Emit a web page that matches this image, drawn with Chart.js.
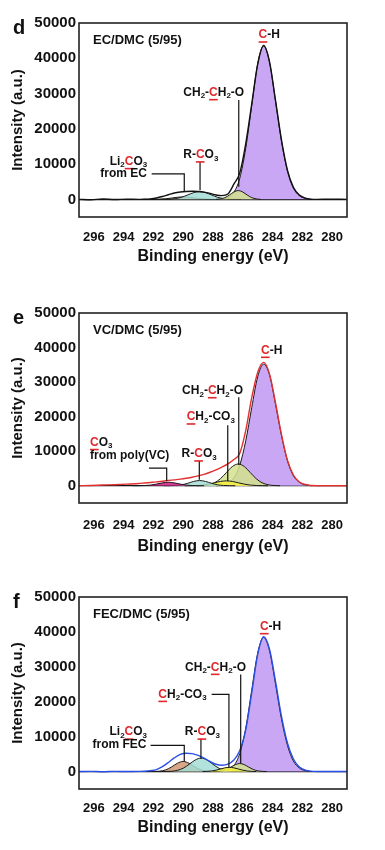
<!DOCTYPE html>
<html>
<head>
<meta charset="utf-8">
<script src="https://cdn.jsdelivr.net/npm/chart.js@4.4.1/dist/chart.umd.min.js"></script>
<style>
  body { margin: 0; background: #fff; }
  .panel { position: absolute; left: 0; width: 385px; }
</style>
</head>
<body>
<div class="panel" style="top:0;height:275px"><canvas id="chart_d"></canvas></div>
<div class="panel" style="top:290px;height:275px"><canvas id="chart_e"></canvas></div>
<div class="panel" style="top:570px;height:280px"><canvas id="chart_f"></canvas></div>
<script>
var xTicks = [296, 294, 292, 290, 288, 286, 284, 282, 280];
var yTicks = [0, 10000, 20000, 30000, 40000, 50000];

// energy grid of the measured spectra (eV)
var lineEnergy = [297, 296.2, 295.4, 294.6, 293.8, 293.0, 292.6, 292.2, 291.8, 291.4, 291.0,
  290.6, 290.2, 289.8, 289.4, 289.0, 288.6, 288.2, 287.8, 287.4, 287.0, 286.6, 286.2, 285.8,
  285.4, 285.0, 284.6, 284.2, 283.8, 283.4, 283.0, 282.6, 282.2, 281.8, 281.0, 280.2, 279.0];

// d : EC/DMC
var dRaw = [0, -100, 100, -50, 50, 0, 50, 150, 400, 800, 1300,
  1800, 2100, 2250, 2300, 2250, 2050, 1700, 1250, 1050, 1500, 4300, 7500, 15800,
  27000, 38300, 43600, 38900, 28000, 16800, 8300, 3400, 1200, 350, 0, 50, 0];
var dChE = [287.8, 287.4, 287.0, 286.6, 286.2, 285.8, 285.4, 285.0, 284.6, 284.2, 283.8, 283.4, 283.0, 282.6, 282.2, 281.8, 281.4];
var dCh = [0, 100, 500, 2000, 6000, 14500, 26500, 38400, 43500, 38800, 27800, 16500, 8000, 3200, 1100, 300, 0];
var dCh2E = [287.8, 287.5, 287.2, 286.9, 286.6, 286.3, 286.0, 285.7, 285.4, 285.1, 284.8];
var dCh2 = [0, 140, 495, 1220, 2090, 2500, 2090, 1220, 495, 140, 0];
var dRco3E = [291.7, 291.3, 290.9, 290.5, 290.1, 289.7, 289.3, 288.9, 288.5, 288.1, 287.7, 287.3, 286.9, 286.5, 286.1];
var dRco3 = [0, 13, 63, 227, 611, 1245, 1907, 2200, 1907, 1245, 611, 227, 63, 13, 0];
var dLiE = [292.8, 292.4, 292.0, 291.6, 291.2, 290.8, 290.4, 290.0, 289.6, 289.2, 288.8, 288.4, 288.0, 287.6, 287.2];
var dLi = [0, 2, 12, 51, 161, 364, 594, 700, 594, 364, 161, 51, 12, 2, 0];

// e : VC/DMC
var eRaw = [0, 80, 200, 300, 450, 650, 800, 950, 1100, 1300, 1500,
  1700, 1900, 2150, 2450, 2850, 3300, 3900, 4600, 5400, 6300, 7600, 9400, 16000,
  25500, 32800, 35700, 32300, 24000, 14800, 7400, 3100, 1100, 350, 0, 0, 0];
var eChE = [287.8, 287.4, 287.0, 286.6, 286.2, 285.8, 285.4, 285.0, 284.6, 284.2, 283.8, 283.4, 283.0, 282.6, 282.2, 281.8, 281.4];
var eCh = [0, 155, 655, 2210, 5980, 13000, 22600, 31500, 35200, 32000, 23500, 14500, 7200, 2900, 1000, 250, 0];
var eCh2E = [289.1, 288.7, 288.3, 287.9, 287.5, 287.1, 286.7, 286.3, 285.9, 285.5, 285.1, 284.7, 284.3, 283.9, 283.5];
var eCh2 = [0, 70, 277, 850, 2045, 3820, 5560, 6300, 5560, 3820, 2045, 850, 277, 70, 0];
var eCo3chE = [289.9, 289.5, 289.1, 288.7, 288.3, 287.9, 287.5, 287.1, 286.7, 286.3, 285.9, 285.5, 285.1, 284.7, 284.3];
var eCo3ch = [0, 15, 62, 190, 455, 850, 1235, 1400, 1235, 850, 455, 190, 62, 15, 0];
var eRco3E = [291.3, 290.9, 290.5, 290.1, 289.7, 289.3, 288.9, 288.5, 288.1, 287.7, 287.3, 286.9, 286.5];
var eRco3 = [0, 13, 72, 273, 704, 1240, 1500, 1240, 704, 273, 72, 13, 0];
var eVcE = [293.4, 293.0, 292.6, 292.2, 291.8, 291.4, 291.0, 290.6, 290.2, 289.8, 289.4, 289.0, 288.6];
var eVc = [0, 9, 48, 182, 469, 827, 1000, 827, 469, 182, 48, 9, 0];

// f : FEC/DMC
var fRaw = [0, 50, -50, 50, 0, 50, 100, 250, 550, 1400, 2600,
  3900, 4900, 5250, 5150, 4650, 3850, 2900, 2100, 1800, 2100, 3300, 6000, 12000,
  22500, 33500, 38600, 35000, 25800, 15800, 8200, 3600, 1300, 400, 0, 0, 0];
var fChE = [287.8, 287.4, 287.0, 286.6, 286.2, 285.8, 285.4, 285.0, 284.6, 284.2, 283.8, 283.4, 283.0, 282.6, 282.2, 281.8, 281.4];
var fCh = [0, 85, 425, 1690, 5200, 12470, 23300, 33900, 38400, 34500, 25000, 15000, 7500, 3000, 1000, 250, 0];
var fCh2E = [288.0, 287.7, 287.4, 287.1, 286.8, 286.5, 286.2, 285.9, 285.6, 285.3, 285.0, 284.7, 284.4];
var fCh2 = [0, 56, 214, 600, 1270, 1980, 2300, 1980, 1270, 600, 214, 56, 0];
var fCo3chE = [288.7, 288.4, 288.1, 287.8, 287.5, 287.2, 286.9, 286.6, 286.3, 286.0, 285.7, 285.4, 285.1];
var fCo3ch = [0, 53, 162, 390, 728, 1060, 1200, 1060, 728, 390, 162, 53, 0];
var fRco3E = [291.6, 291.2, 290.8, 290.4, 290.0, 289.6, 289.2, 288.8, 288.4, 288.0, 287.6, 287.2, 286.8, 286.4, 286.0];
var fRco3 = [0, 15, 81, 327, 960, 2075, 3300, 3850, 3300, 2075, 960, 327, 81, 15, 0];
var fLiE = [292.4, 292.0, 291.6, 291.2, 290.8, 290.4, 290.0, 289.6, 289.2, 288.8, 288.4, 288.0, 287.6];
var fLi = [0, 16, 104, 447, 1262, 2355, 2900, 2355, 1262, 447, 104, 16, 0];

var FONT = '"Liberation Sans", Arial, sans-serif';
var RED = '#e0282c';
var col = {
  ch: 'rgba(198,160,244,0.92)',
  ch2: 'rgba(212,226,140,0.85)',
  co3ch: 'rgba(242,240,70,0.9)',
  rco3: 'rgba(165,221,214,0.85)',
  li: 'rgba(208,152,115,0.85)',
  vc: 'rgba(204,40,135,0.9)'
};

function toPoints(xs, ys) {
  return xs.map(function(x, i) { return {x: x, y: ys[i]}; });
}

function peak(xs, ys, color, order) {
  return {
    data: toPoints(xs, ys), borderColor: '#1a1a1a', borderWidth: 1,
    backgroundColor: color, fill: 'origin', pointRadius: 0,
    cubicInterpolationMode: 'monotone', order: order
  };
}

function spectrum(ys, color) {
  return {
    data: toPoints(lineEnergy, ys), borderColor: color, borderWidth: 1.4,
    fill: false, pointRadius: 0, cubicInterpolationMode: 'monotone', order: 0
  };
}

// text with {C} = red underlined, _3 = subscript
function richText(ctx, markup, x, y, size, align) {
  var parts = markup.match(/\{[^}]+\}|_[0-9]|[^{_]+/g);
  var main = 'bold ' + size + 'px ' + FONT;
  var sub = 'bold ' + Math.round(size * 0.64) + 'px ' + FONT;
  var width = 0;
  var items = parts.map(function(p) {
    var it = {t: p, font: main, dy: 0, red: false};
    if (p[0] === '{') { it.t = p.slice(1, -1); it.red = true; }
    else if (p[0] === '_') { it.t = p.slice(1); it.font = sub; it.dy = size * 0.3; }
    ctx.font = it.font;
    it.w = ctx.measureText(it.t).width;
    width += it.w;
    return it;
  });
  var cx = align === 'left' ? x : (align === 'right' ? x - width : x - width / 2);
  ctx.textBaseline = 'middle';
  ctx.textAlign = 'left';
  items.forEach(function(it) {
    ctx.font = it.font;
    ctx.fillStyle = it.red ? RED : '#111';
    ctx.fillText(it.t, cx, y + it.dy);
    if (it.red) {
      ctx.strokeStyle = RED;
      ctx.lineWidth = 1.6;
      ctx.beginPath();
      ctx.moveTo(cx, y + size * 0.5 + 1);
      ctx.lineTo(cx + it.w, y + size * 0.5 + 1);
      ctx.stroke();
    }
    cx += it.w;
  });
}

function makeDecor(panel) {
  return {
    id: 'decor',
    afterDatasetsDraw: function(chart) {
      var ctx = chart.ctx, a = chart.chartArea;
      var xs = chart.scales.x, ys = chart.scales.y;
      ctx.save();
      ctx.strokeStyle = '#222';
      ctx.lineWidth = 1.6;
      ctx.strokeRect(a.left, a.top, a.right - a.left, a.bottom - a.top);

      ctx.strokeStyle = '#111';
      ctx.lineWidth = 1.2;
      panel.leaders.forEach(function(l) {
        ctx.beginPath();
        l.forEach(function(p, i) {
          var px = xs.getPixelForValue(p[0]), py = ys.getPixelForValue(p[1]);
          if (i === 0) ctx.moveTo(px, py); else ctx.lineTo(px, py);
        });
        ctx.stroke();
      });
      panel.labels.forEach(function(l) {
        richText(ctx, l.text, xs.getPixelForValue(l.x), ys.getPixelForValue(l.y), 12, l.align || 'center');
      });

      richText(ctx, panel.title, a.left + 14, a.top + 17, 13, 'left');

      ctx.fillStyle = '#111';
      ctx.font = 'bold 20px ' + FONT;
      ctx.textAlign = 'left';
      ctx.textBaseline = 'alphabetic';
      ctx.fillText(panel.letter, 13, a.top + 11);

      ctx.font = 'bold 16px ' + FONT;
      ctx.textAlign = 'center';
      ctx.textBaseline = 'middle';
      ctx.fillText('Binding energy (eV)', (a.left + a.right) / 2, a.bottom + panel.titleDy);

      ctx.translate(18, (a.top + a.bottom) / 2);
      ctx.rotate(-Math.PI / 2);
      ctx.font = 'bold 15px ' + FONT;
      ctx.fillText('Intensity (a.u.)', 0, 0);
      ctx.restore();
    }
  };
}

function makeChart(id, panel) {
  return new Chart(document.getElementById(id), {
    type: 'line',
    data: { datasets: panel.datasets },
    options: {
      responsive: true,
      maintainAspectRatio: false,
      animation: false,
      layout: { padding: { top: panel.padTop, right: 38, left: 0, bottom: 0 } },
      plugins: { legend: { display: false }, tooltip: { enabled: false } },
      scales: {
        x: {
          type: 'linear', min: 279, max: 297, reverse: true,
          afterBuildTicks: function(s) { s.ticks = xTicks.map(function(v) { return {value: v}; }); },
          afterFit: function(s) { s.height = panel.xAxisHeight; },
          grid: { display: false, drawTicks: false },
          border: { display: false },
          ticks: {
            color: '#111', padding: panel.tickPad, maxRotation: 0, autoSkip: false,
            font: { family: FONT, size: 13, weight: 'bold' },
            callback: function(v) { return String(v); }
          }
        },
        y: {
          type: 'linear', min: -5000, max: 50000,
          afterBuildTicks: function(s) { s.ticks = yTicks.map(function(v) { return {value: v}; }); },
          afterFit: function(s) { s.width = 79; },
          grid: {
            drawTicks: false, lineWidth: 1.3,
            color: function(c) { return c.tick && c.tick.value === 0 ? '#111' : 'rgba(0,0,0,0)'; }
          },
          border: { display: false },
          ticks: {
            color: '#111', padding: 3,
            font: { family: FONT, size: 15, weight: 'bold' },
            callback: function(v) { return String(v); }
          }
        }
      }
    },
    plugins: [makeDecor(panel)]
  });
}

makeChart('chart_d', {
  letter: 'd', title: 'EC/DMC (5/95)', padTop: 23, xAxisHeight: 58, tickPad: 13, titleDy: 40,
  datasets: [
    spectrum(dRaw, '#111'),
    peak(dCh2E, dCh2, col.ch2, 1),
    peak(dRco3E, dRco3, col.rco3, 2),
    peak(dLiE, dLi, col.li, 3),
    peak(dChE, dCh, col.ch, 5)
  ],
  labels: [
    {text: '{C}-H', x: 284.22, y: 46600},
    {text: 'CH_2-{C}H_2-O', x: 287.95, y: 30250},
    {text: 'R-{C}O_3', x: 288.82, y: 12600},
    {text: 'Li_2{C}O_3', x: 293.68, y: 10700},
    {text: 'from EC', x: 294.0, y: 7400}
  ],
  leaders: [
    [[286.27, 28200], [286.27, 3600]],
    [[288.87, 10600], [288.87, 2600]],
    [[292.12, 7200], [289.93, 7200], [289.93, 2200]]
  ]
});

makeChart('chart_e', {
  letter: 'e', title: 'VC/DMC (5/95)', padTop: 23, xAxisHeight: 62, tickPad: 15, titleDy: 44,
  datasets: [
    spectrum(eRaw, '#e03030'),
    peak(eVcE, eVc, col.vc, 1),
    peak(eRco3E, eRco3, col.rco3, 2),
    peak(eCo3chE, eCo3ch, col.co3ch, 3),
    peak(eCh2E, eCh2, col.ch2, 4),
    peak(eChE, eCh, col.ch, 5)
  ],
  labels: [
    {text: '{C}-H', x: 284.06, y: 39200},
    {text: 'CH_2-{C}H_2-O', x: 288.03, y: 27500},
    {text: '{C}H_2-CO_3', x: 288.15, y: 19900},
    {text: 'R-{C}O_3', x: 288.93, y: 9200},
    {text: '{C}O_3', x: 296.26, y: 12500, align: 'left'},
    {text: 'from poly(VC)', x: 296.26, y: 8600, align: 'left'}
  ],
  leaders: [
    [[286.27, 25600], [286.27, 6000]],
    [[287.01, 17500], [287.01, 1400]],
    [[288.92, 7200], [288.92, 1700]],
    [[292.3, 5100], [291.11, 5100], [291.11, 1400]]
  ]
});

makeChart('chart_f', {
  letter: 'f', title: 'FEC/DMC (5/95)', padTop: 27, xAxisHeight: 61, tickPad: 12, titleDy: 39,
  datasets: [
    spectrum(fRaw, '#2a4fe6'),
    peak(fCo3chE, fCo3ch, col.co3ch, 1),
    peak(fCh2E, fCh2, col.ch2, 2),
    peak(fRco3E, fRco3, col.rco3, 3),
    peak(fLiE, fLi, col.li, 4),
    peak(fChE, fCh, col.ch, 5)
  ],
  labels: [
    {text: '{C}-H', x: 284.13, y: 41500},
    {text: 'CH_2-{C}H_2-O', x: 287.83, y: 29850},
    {text: '{C}H_2-CO_3', x: 290.05, y: 22100},
    {text: 'R-{C}O_3', x: 288.71, y: 11300},
    {text: 'Li_2{C}O_3', x: 293.69, y: 11300},
    {text: 'from FEC', x: 294.28, y: 7800}
  ],
  leaders: [
    [[286.14, 27800], [286.14, 2400]],
    [[288.09, 22100], [286.93, 22100], [286.93, 1100]],
    [[288.81, 9400], [288.81, 3700]],
    [[292.19, 7500], [289.93, 7500], [289.93, 2900]]
  ]
});
</script>
</body>
</html>
